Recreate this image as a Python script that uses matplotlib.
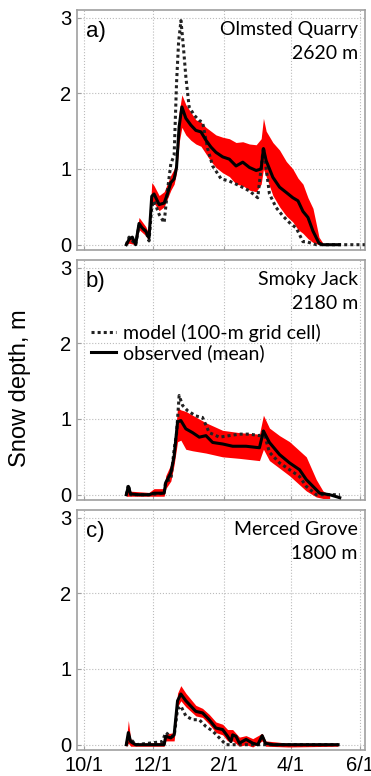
import matplotlib
matplotlib.use('Agg')
import matplotlib.pyplot as plt
import numpy as np

plt.rcParams['font.family'] = ['Liberation Sans', 'DejaVu Sans']

# days since Oct 1
tick_days = [0, 61, 123, 182, 243]
tick_labels = ['10/1', '12/1', '2/1', '4/1', '6/1']

# a) Olmsted Quarry
a_obs_day = [37.4, 39.8, 42.7, 45.6, 48.6, 51.5, 54.5, 57.4, 59.8, 61.8, 66.3, 70.7, 73.6, 76.6, 79.5,
             81.6, 83.9, 86.3, 89.8, 94.2, 98.6, 103.1, 107.5, 111.9, 116.3, 122.2, 128.1, 134.0,
             139.9, 145.8, 151.7, 156.1, 158.1, 160.5, 166.4, 172.3, 178.2, 184.0, 188.5, 192.9,
             197.3, 201.7, 207.0, 210.5, 225.0]
a_obs = [0.0, 0.07, 0.1, 0.0, 0.28, 0.22, 0.18, 0.09, 0.64, 0.67, 0.53, 0.55, 0.67, 0.82, 0.87,
         1.02, 1.56, 1.82, 1.67, 1.58, 1.51, 1.49, 1.38, 1.29, 1.22, 1.16, 1.13, 1.04,
         1.09, 1.02, 0.98, 1.0, 1.27, 1.11, 0.89, 0.76, 0.69, 0.62, 0.58, 0.44,
         0.36, 0.18, 0.02, 0.0, 0.0]
a_band_day = [37.4, 39.8, 45.6, 48.6, 54.5, 57.4, 59.8, 61.8, 66.3, 70.7, 76.6, 79.5, 81.6, 83.9,
              86.3, 89.8, 94.2, 98.6, 103.1, 107.5, 111.9, 116.3, 122.2, 128.1, 134.0, 139.9,
              145.8, 151.7, 156.1, 158.1, 160.5, 166.4, 172.3, 178.2, 184.0, 188.5, 192.9,
              197.3, 201.7, 207.0, 210.5]
a_lo = [0.0, 0.02, 0.0, 0.2, 0.12, 0.05, 0.55, 0.55, 0.45, 0.5, 0.72, 0.8, 0.95, 1.35,
        1.55, 1.45, 1.38, 1.33, 1.3, 1.2, 1.1, 1.02, 0.95, 0.9, 0.8, 0.78,
        0.72, 0.7, 0.8, 1.0, 0.9, 0.65, 0.5, 0.38, 0.3, 0.2, 0.15,
        0.08, 0.03, 0.0, 0.0]
a_hi = [0.05, 0.12, 0.05, 0.36, 0.24, 0.14, 0.82, 0.78, 0.65, 0.7, 0.92, 1.0, 1.12, 1.75,
        1.98, 1.85, 1.75, 1.65, 1.62, 1.55, 1.5, 1.45, 1.42, 1.4, 1.35, 1.36,
        1.33, 1.32, 1.4, 1.67, 1.5, 1.35, 1.25, 1.1, 1.0, 0.88, 0.8,
        0.62, 0.48, 0.1, 0.02]
a_mod_day = [37.4, 39.8, 42.7, 45.6, 48.6, 54.5, 57.4, 59.8, 61.8, 66.3, 70.7, 73.6, 76.6, 79.5,
             81.6, 83.4, 85.5, 87.6, 89.8, 92.7, 97.2, 101.6, 104.5, 109.0, 113.4, 120.8, 128.1,
             136.9, 145.8, 153.1, 158.1, 163.4, 169.3, 175.2, 181.1, 187.0, 192.9, 195.8,
             204.6, 247.3]
a_mod = [0.0, 0.1, 0.05, 0.0, 0.25, 0.18, 0.05, 0.5, 0.58, 0.4, 0.29, 0.71, 1.07, 1.18,
         2.13, 2.67, 2.96, 2.62, 2.22, 1.82, 1.71, 1.64, 1.62, 1.27, 1.04, 0.87, 0.84,
         0.78, 0.71, 0.62, 1.29, 0.67, 0.49, 0.38, 0.29, 0.22, 0.04, 0.04,
         0.0, 0.0]

# b) Smoky Jack
b_obs_day = [37.4, 39.2, 41.2, 48.6, 57.4, 61.8, 70.7, 72.1, 76.6, 79.5, 82.5, 85.4, 89.8, 95.7,
             101.6, 107.5, 113.4, 122.2, 131.0, 142.8, 154.6, 158.1, 163.4, 172.3, 181.1,
             189.9, 195.8, 201.7, 207.6, 216.4, 225.3]
b_obs = [0.0, 0.11, 0.01, 0.0, 0.0, 0.02, 0.02, 0.16, 0.29, 0.51, 0.96, 0.98, 0.87, 0.82,
         0.76, 0.78, 0.69, 0.67, 0.64, 0.64, 0.62, 0.84, 0.69, 0.53, 0.42,
         0.33, 0.2, 0.11, 0.02, 0.0, -0.04]
b_band_day = [37.4, 57.4, 61.8, 70.7, 72.1, 76.6, 79.5, 82.5, 85.4, 89.8, 95.7, 107.5, 122.2,
              136.9, 154.6, 158.1, 163.4, 172.3, 181.1, 195.8, 204.6, 210.5, 216.4]
b_lo = [-0.02, -0.02, -0.02, -0.02, 0.08, 0.18, 0.4, 0.7, 0.72, 0.6, 0.58, 0.55, 0.5,
        0.48, 0.45, 0.6, 0.45, 0.35, 0.25, 0.05, -0.03, -0.05, -0.05]
b_hi = [0.05, 0.03, 0.08, 0.08, 0.25, 0.4, 0.62, 1.15, 1.12, 1.1, 1.05, 0.95, 0.85,
        0.82, 0.8, 1.05, 0.88, 0.78, 0.7, 0.5, 0.2, 0.05, 0.0]
b_mod_day = [37.4, 39.2, 41.2, 57.4, 70.7, 72.1, 76.6, 79.5, 81.6, 83.9, 86.9, 91.3, 98.6, 104.5,
             110.4, 119.3, 128.1, 136.9, 145.8, 154.6, 158.1, 163.4, 172.3, 181.1, 189.9,
             195.8, 204.6, 225.3]
b_mod = [0.0, 0.13, 0.0, 0.0, 0.02, 0.18, 0.2, 0.6, 0.8, 1.31, 1.18, 1.11, 1.04, 1.02,
         0.82, 0.76, 0.78, 0.8, 0.8, 0.78, 0.84, 0.56, 0.42, 0.33, 0.24,
         0.11, 0.0, 0.0]

# c) Merced Grove
c_obs_day = [37.4, 39.2, 41.2, 45.6, 70.7, 72.1, 76.6, 79.5, 82.5, 85.4, 89.8, 94.2, 98.6, 104.5,
             110.4, 116.3, 122.2, 126.6, 129.5, 131.0, 134.0, 136.9, 142.8, 148.7, 153.1,
             157.0, 159.9, 166.4, 223.8]
c_obs = [0.0, 0.16, 0.04, 0.0, 0.0, 0.11, 0.09, 0.13, 0.58, 0.67, 0.58, 0.51, 0.44, 0.42,
         0.33, 0.22, 0.2, 0.11, 0.04, 0.13, 0.11, 0.02, 0.07, 0.02, 0.0,
         0.12, 0.02, 0.0, 0.0]
c_band_day = [37.4, 39.2, 41.2, 45.6, 70.7, 72.1, 79.5, 82.5, 85.4, 89.8, 94.2, 98.6, 104.5,
              110.4, 116.3, 122.2, 126.6, 131.0, 136.9, 142.8, 148.7, 157.0, 160.0, 180.0, 223.8]
c_lo = [-0.03, 0.02, -0.02, -0.02, -0.02, 0.05, 0.05, 0.5, 0.58, 0.5, 0.44, 0.38, 0.36,
        0.27, 0.16, 0.13, 0.05, 0.05, -0.02, 0.0, -0.03, 0.05, -0.02, -0.03, -0.02]
c_hi = [0.05, 0.32, 0.08, 0.02, 0.03, 0.14, 0.16, 0.68, 0.78, 0.68, 0.6, 0.52, 0.48,
        0.4, 0.3, 0.27, 0.2, 0.2, 0.1, 0.12, 0.08, 0.15, 0.05, 0.02, 0.02]
c_mod_day = [37.4, 39.8, 45.6, 69.0, 72.1, 76.6, 79.5, 82.5, 85.4, 89.8, 95.7, 101.6, 107.5,
             113.4, 119.3, 125.1, 223.8]
c_mod = [0.0, 0.1, 0.0, 0.04, 0.16, 0.11, 0.11, 0.47, 0.51, 0.38, 0.33, 0.33, 0.24,
         0.18, 0.09, 0.0, 0.0]

panels = [
    ('a)', 'Olmsted Quarry\n2620 m', a_obs_day, a_obs, a_band_day, a_lo, a_hi, a_mod_day, a_mod),
    ('b)', 'Smoky Jack\n2180 m', b_obs_day, b_obs, b_band_day, b_lo, b_hi, b_mod_day, b_mod),
    ('c)', 'Merced Grove\n1800 m', c_obs_day, c_obs, c_band_day, c_lo, c_hi, c_mod_day, c_mod),
]

fig = plt.figure(figsize=(3.71, 7.76), dpi=100)
left, width, height = 77 / 371, 288 / 371, 240 / 776
tops = [10, 260, 510]

axes = []
for i, (lab, site, od, ov, bd, lo, hi, md, mv) in enumerate(panels):
    ax = fig.add_axes([left, 1 - (tops[i] + height * 776) / 776, width, height])
    ax.fill_between(bd, lo, hi, color='red', lw=0, zorder=2)
    ax.plot(md, mv, color='#222222', lw=2.2, ls=(0, (1, 1)), zorder=3,
            label='model (100-m grid cell)')
    ax.plot(od, ov, color='black', lw=2.2, zorder=4, label='observed (mean)')
    ax.set_xlim(-6, 247.5)
    ax.set_ylim(-0.07, 3.1)
    ax.set_yticks([0, 1, 2, 3])
    ax.set_xticks(tick_days)
    if i == 2:
        ax.set_xticklabels(tick_labels)
    else:
        ax.set_xticklabels([])
    ax.grid(True, color='#bbbbbb', ls=':', lw=0.8)
    ax.set_axisbelow(True)
    for s in ax.spines.values():
        s.set_color('#a0a0a0')
        s.set_linewidth(1.2)
    ax.tick_params(direction='in', length=3, color='#a0a0a0', labelsize=14.5, pad=4)
    ax.text(0.03, 0.955, lab, transform=ax.transAxes, ha='left', va='top',
            fontsize=16)
    ax.text(0.975, 0.955, site, transform=ax.transAxes, ha='right', va='top',
            fontsize=14, fontfamily='Lato', linespacing=1.5)
    axes.append(ax)

axes[1].legend(loc='upper left', bbox_to_anchor=(0.0, 0.79), frameon=False,
               prop={'family': 'Lato', 'size': 14}, handlelength=1.3,
               handletextpad=0.35, labelspacing=0.1, borderaxespad=0.3)

fig.text(0.055, 0.5, 'Snow depth, m', rotation=90, ha='center', va='center',
         fontsize=17)

plt.savefig('out.png', dpi=100)
